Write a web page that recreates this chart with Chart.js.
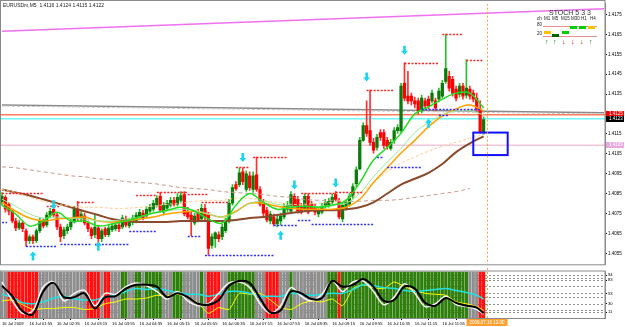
<!DOCTYPE html>
<html><head><meta charset="utf-8">
<script src="https://cdn.jsdelivr.net/npm/chart.js@4.4.0/dist/chart.umd.min.js"></script>
<style>
html,body{margin:0;padding:0;background:#fff;}
#wrap{position:relative;width:625px;height:327px;overflow:hidden;font-family:"Liberation Sans",Arial,sans-serif;}
canvas{position:absolute;left:0;}
#c1{top:0;}
#c2{top:268px;}
.t{position:absolute;white-space:nowrap;line-height:1;color:#222;}
.bx{position:absolute;height:3px;width:7px;}
</style></head><body>
<div id="wrap">
<canvas id="c1" width="625" height="268"></canvas>
<canvas id="c2" width="625" height="59"></canvas>
<div class="t" style="left:3px;top:3px;font-size:5px;">EURUSDm,M5&nbsp; 1.4116 1.4124 1.4115 1.4122</div>
<div class="t" style="left:549px;top:9px;font-size:7px;color:#333;">STOCH 5 3 3</div>
<div class="t" style="left:537px;top:17px;font-size:4.5px;">ch</div>
<div class="t" style="left:544px;top:17px;font-size:4.5px;">M1</div>
<div class="t" style="left:552px;top:17px;font-size:4.5px;">M5</div>
<div class="t" style="left:561px;top:17px;font-size:4.5px;">M15</div>
<div class="t" style="left:571px;top:17px;font-size:4.5px;">M30</div>
<div class="t" style="left:581px;top:17px;font-size:4.5px;">H1</div>
<div class="t" style="left:590px;top:17px;font-size:4.5px;">H4</div>
<div class="t" style="left:537px;top:23px;font-size:4.5px;">80</div>
<div class="t" style="left:537px;top:32px;font-size:4.5px;">20</div>
<div style="position:absolute;left:543px;top:26px;width:54px;height:1px;background:#e89090;"></div>
<div style="position:absolute;left:543px;top:36px;width:54px;height:1px;background:#e89090;"></div>
<div class="bx" style="left:544px;top:31px;background:#ffc000;"></div>
<div class="bx" style="left:552px;top:34px;background:#006400;"></div>
<div class="bx" style="left:562px;top:31px;background:#00d000;"></div>
<div class="bx" style="left:570px;top:26px;background:#00d000;"></div>
<div class="bx" style="left:579px;top:26px;background:#00d000;"></div>
<div class="bx" style="left:588px;top:26px;background:#ffc000;"></div>
<div class="t" style="left:545px;top:38px;font-size:7px;font-weight:bold;color:#008000;">↑</div>
<div class="t" style="left:553px;top:38px;font-size:7px;font-weight:bold;color:#008000;">↑</div>
<div class="t" style="left:562px;top:38px;font-size:7px;font-weight:bold;color:#e00000;">↓</div>
<div class="t" style="left:571px;top:38px;font-size:7px;font-weight:bold;color:#e00000;">↓</div>
<div class="t" style="left:580px;top:38px;font-size:7px;font-weight:bold;color:#e00000;">↓</div>
<div class="t" style="left:589px;top:38px;font-size:7px;font-weight:bold;color:#008000;">↑</div>
</div>
<script>
// ---------- price data (M5 bars) ----------
const opens = [
1.40807,1.40832,1.40797,1.40762,1.40713,1.40678,1.40703,1.40664,1.40614,1.40634,
1.40614,1.40664,1.40713,1.40693,1.40743,1.40772,1.40743,1.40683,1.40639,1.40664,
1.40683,1.40708,1.40772,1.40723,1.40738,1.40703,1.40674,1.40644,1.40678,1.40624,
1.40674,1.40644,1.40669,1.40674,1.40693,1.40683,1.40723,1.40688,1.40708,1.40713,
1.40733,1.40753,1.40738,1.40762,1.40772,1.40792,1.40837,1.40757,1.40777,1.40792,
1.40817,1.40797,1.40817,1.40846,1.40762,1.40743,1.40703,1.40753,1.40723,1.40777,
1.40743,1.40590,1.40624,1.40644,1.40634,1.40664,1.40713,1.40802,1.40896,1.40896,
1.40960,1.40871,1.40940,1.40871,1.40945,1.40871,1.40797,1.40767,1.40713,1.40733,
1.40698,1.40713,1.40733,1.40772,1.40762,1.40837,1.40822,1.40787,1.40772,1.40837,
1.40797,1.40782,1.40748,1.40757,1.40787,1.40792,1.40807,1.40846,1.40812,1.40723,
1.40777,1.40797,1.40837,1.40901,1.40975,1.41118,1.41192,1.41167,1.41108,1.41083,
1.41157,1.41157,1.41118,1.41078,1.41118,1.41167,1.41167,1.41404,1.41340,1.41340,
1.41316,1.41316,1.41266,1.41316,1.41325,1.41316,1.41316,1.41325,1.41340,1.41414,
1.41439,1.41424,1.41375,1.41350,1.41390,1.41345,1.41375,1.41355,1.41330,1.41276,
1.41162];
const highs = [
1.40856,1.40841,1.40807,1.40772,1.40728,1.40718,1.40713,1.40674,1.40644,1.40644,
1.40674,1.40728,1.40723,1.40757,1.40777,1.40792,1.40753,1.40698,1.40683,1.40698,
1.40723,1.40787,1.40812,1.40762,1.40753,1.40713,1.40683,1.40748,1.40693,1.40674,
1.40683,1.40693,1.40703,1.40708,1.40703,1.40743,1.40738,1.40728,1.40743,1.40757,
1.40772,1.40767,1.40787,1.40797,1.40817,1.40841,1.40856,1.40807,1.40817,1.40832,
1.40832,1.40851,1.40861,1.40861,1.40782,1.40762,1.40753,1.40772,1.40797,1.40797,
1.40757,1.40649,1.40659,1.40659,1.40698,1.40728,1.40822,1.40896,1.40911,1.40980,
1.40980,1.40965,1.40960,1.40960,1.41034,1.40886,1.40822,1.40782,1.40762,1.40748,
1.40738,1.40753,1.40802,1.40812,1.40861,1.40851,1.40837,1.40802,1.40851,1.40851,
1.40812,1.40797,1.40777,1.40802,1.40822,1.40827,1.40851,1.40861,1.40827,1.40807,
1.40822,1.40851,1.40901,1.40985,1.41133,1.41207,1.41316,1.41370,1.41128,1.41148,
1.41172,1.41172,1.41133,1.41123,1.41182,1.41197,1.41404,1.41508,1.41464,1.41355,
1.41335,1.41330,1.41345,1.41330,1.41340,1.41370,1.41330,1.41380,1.41419,1.41651,
1.41464,1.41439,1.41390,1.41404,1.41404,1.41523,1.41390,1.41370,1.41355,1.41316,
1.41236];
const lows = [
1.40792,1.40757,1.40743,1.40703,1.40664,1.40669,1.40659,1.40585,1.40599,1.40599,
1.40604,1.40654,1.40678,1.40683,1.40728,1.40733,1.40669,1.40609,1.40624,1.40649,
1.40669,1.40703,1.40713,1.40708,1.40693,1.40659,1.40624,1.40629,1.40599,1.40609,
1.40634,1.40634,1.40659,1.40664,1.40659,1.40674,1.40683,1.40678,1.40693,1.40703,
1.40718,1.40718,1.40728,1.40753,1.40762,1.40782,1.40757,1.40743,1.40767,1.40782,
1.40787,1.40787,1.40807,1.40738,1.40723,1.40639,1.40693,1.40708,1.40713,1.40713,
1.40540,1.40575,1.40580,1.40609,1.40619,1.40654,1.40703,1.40792,1.40866,1.40886,
1.40896,1.40861,1.40866,1.40856,1.40861,1.40787,1.40738,1.40708,1.40698,1.40688,
1.40683,1.40693,1.40723,1.40757,1.40753,1.40777,1.40753,1.40748,1.40762,1.40748,
1.40762,1.40743,1.40733,1.40748,1.40777,1.40782,1.40797,1.40812,1.40723,1.40708,
1.40767,1.40787,1.40827,1.40886,1.40970,1.41113,1.41138,1.41093,1.41054,1.41069,
1.41118,1.41078,1.41074,1.41069,1.41103,1.41153,1.41157,1.41316,1.41301,1.41296,
1.41281,1.41251,1.41256,1.41276,1.41276,1.41306,1.41266,1.41311,1.41330,1.41404,
1.41365,1.41340,1.41316,1.41335,1.41325,1.41330,1.41325,1.41311,1.41266,1.41153,
1.41148];
const closes = [
1.40837,1.40772,1.40762,1.40713,1.40678,1.40703,1.40674,1.40614,1.40634,1.40614,
1.40664,1.40713,1.40688,1.40743,1.40762,1.40743,1.40683,1.40634,1.40669,1.40683,
1.40708,1.40772,1.40728,1.40748,1.40703,1.40674,1.40639,1.40683,1.40624,1.40664,
1.40644,1.40678,1.40688,1.40693,1.40674,1.40728,1.40693,1.40713,1.40728,1.40743,
1.40757,1.40728,1.40772,1.40782,1.40802,1.40827,1.40767,1.40792,1.40802,1.40817,
1.40797,1.40832,1.40841,1.40748,1.40733,1.40713,1.40738,1.40718,1.40777,1.40733,
1.40575,1.40634,1.40654,1.40624,1.40683,1.40713,1.40802,1.40881,1.40876,1.40955,
1.40911,1.40950,1.40881,1.40940,1.40871,1.40797,1.40753,1.40718,1.40748,1.40698,
1.40723,1.40738,1.40787,1.40792,1.40846,1.40787,1.40762,1.40757,1.40837,1.40757,
1.40772,1.40757,1.40762,1.40787,1.40807,1.40812,1.40832,1.40822,1.40733,1.40792,
1.40807,1.40837,1.40886,1.40970,1.41118,1.41192,1.41153,1.41108,1.41069,1.41133,
1.41133,1.41093,1.41088,1.41108,1.41167,1.41182,1.41390,1.41330,1.41316,1.41316,
1.41301,1.41266,1.41330,1.41291,1.41291,1.41355,1.41281,1.41365,1.41404,1.41478,
1.41380,1.41355,1.41330,1.41390,1.41340,1.41380,1.41340,1.41325,1.41276,1.41162,
1.41222];

// moving averages, read every 4 bars
const maIdx = [0,4,8,12,16,20,24,28,32,36,40,44,48,52,56,60,64,68,72,76,80,84,88,92,96,100,104,108,112,116,120,124,128,132,136,140];
const maFast = [1.40792,1.40748,1.40688,1.40713,1.40757,1.40713,1.40713,1.40688,1.40698,1.40713,1.40733,1.40753,1.40767,1.40782,1.40762,1.40723,1.40703,1.40792,1.40851,1.40807,1.40772,1.40782,1.40787,1.40782,1.40792,1.40817,1.40906,1.41019,1.41083,1.41153,1.41251,1.41286,1.41325,1.41355,1.41355,1.41281];
const maLight = [1.40822,1.40787,1.40748,1.40728,1.40733,1.40728,1.40723,1.40713,1.40713,1.40723,1.40733,1.40753,1.40762,1.40772,1.40767,1.40748,1.40733,1.40757,1.40802,1.40812,1.40797,1.40787,1.40787,1.40787,1.40792,1.40802,1.40851,1.40935,1.41009,1.41078,1.41157,1.41207,1.41246,1.41266,1.41266,1.41246];
const maOrange = [1.40807,1.40762,1.40728,1.40713,1.40723,1.40728,1.40733,1.40713,1.40708,1.40713,1.40723,1.40733,1.40748,1.40757,1.40762,1.40748,1.40733,1.40762,1.40802,1.40802,1.40787,1.40777,1.40772,1.40772,1.40772,1.40782,1.40822,1.40906,1.40980,1.41054,1.41118,1.41187,1.41241,1.41276,1.41296,1.41266];
const maPeach = [1.40871,1.40856,1.40832,1.40812,1.40797,1.40787,1.40782,1.40782,1.40777,1.40777,1.40782,1.40787,1.40797,1.40802,1.40812,1.40817,1.40817,1.40827,1.40827,1.40817,1.40807,1.40797,1.40797,1.40802,1.40807,1.40822,1.40856,1.40906,1.40960,1.41004,1.41034,1.41064,1.41088,1.41108,1.41128,1.41148];
const maBrown = [1.40871,1.40856,1.40841,1.40822,1.40802,1.40782,1.40762,1.40743,1.40723,1.40713,1.40708,1.40708,1.40708,1.40713,1.40713,1.40713,1.40713,1.40718,1.40728,1.40733,1.40743,1.40753,1.40762,1.40767,1.40767,1.40772,1.40782,1.40807,1.40851,1.40896,1.40925,1.40955,1.40999,1.41059,1.41103,1.41138];
const maSlow = [1.40985,1.40980,1.40970,1.40960,1.40950,1.40940,1.40935,1.40925,1.40920,1.40911,1.40906,1.40901,1.40891,1.40881,1.40876,1.40871,1.40861,1.40856,1.40851,1.40846,1.40837,1.40832,1.40822,1.40817,1.40817,1.40812,1.40812,1.40817,1.40817,1.40822,1.40832,1.40841,1.40851,1.40861,1.40876,null];

// lines and levels
const magentaTrend = [[0,1.41666],[175,1.41779]];
const grayTrend = [[0,1.41296],[175,1.41256]];
const levelCoral = 1.41246, levelCyan = 1.41227, levelPink = 1.41093;
const resist = [[0,12,1.40856],[13,17,1.40787],[22,27,1.40807],[39,45,1.40846],[45,54,1.40861],[54,60,1.40851],[58,66,1.40807],[68,72,1.40985],[73,83,1.41034],[87,97,1.40856],[97,105,1.40861],[106,114,1.41370],[117,127,1.41508],[128,134,1.41651],[135,140,1.41523]];
const support = [[0,1.5,1.40708],[7,16,1.40590],[17,26,1.40599],[27,37,1.40599],[37,45,1.40664],[54,58,1.40639],[59,79,1.40540],[79,86,1.40693],[86,90,1.40718],[90,108,1.40698],[109,111,1.41034],[112,122,1.40985],[127,130,1.41246],[122,139,1.41276]];
const arrowsUp = [[9,1.40560],[28,1.40609],[81,1.40664],[124,1.41227]];
const arrowsDown = [[15,1.40772],[70,1.41009],[85,1.40871],[97,1.40881],[106,1.41414],[117,1.41548]];
const boxZone = {i1:137, i2:147, p1:1.41157, p2:1.41044};
const nowBar = 141;
const priceTicks = [1.4175,1.4165,1.4155,1.4145,1.4135,1.4115,1.4105,1.4095,1.4085,1.4075,1.4065,1.4055];
const axisTags = [[1.41251,'1.4125'],[1.41227,'1.4123'],[1.41093,'1.4109']];

// lower window oscillator
const oscIdx = [0,3,6,9,12,15,18,21,24,27,30,33,36,39,42,45,48,51,54,57,60,63,66,69,72,75,78,81,84,87,90,93,96,99,102,105,108,111,114,117,120,123,126,129,132,135,138,140];
const oscBlack = [70.2,46.8,12.8,6.4,57.4,76.6,44.7,44.7,53.2,19.1,44.7,46.8,63.8,72.3,72.3,68.1,44.7,53.2,44.7,29.8,27.7,38.3,70.2,80.9,76.6,42.6,10.6,14.9,57.4,53.2,40.4,42.6,80.9,68.1,72.3,85.1,68.1,36.2,38.3,68.1,63.8,31.9,25.5,42.6,31.9,25.5,21.3,8.5];
const oscWhite = [78.7,36.2,8.5,14.9,68.1,78.7,36.2,53.2,59.6,25.5,53.2,51.1,68.1,76.6,70.2,57.4,40.4,57.4,36.2,25.5,29.8,53.2,76.6,78.7,66.0,29.8,8.5,25.5,66.0,46.8,36.2,51.1,80.9,57.4,78.7,80.9,57.4,27.7,44.7,74.5,53.2,23.4,29.8,46.8,27.7,23.4,17.0,6.4];
const oscCyan = [51.1,44.7,31.9,29.8,34.0,42.6,46.8,40.4,38.3,38.3,44.7,48.9,57.4,63.8,61.7,63.8,59.6,55.3,51.1,51.1,46.8,51.1,57.4,57.4,53.2,46.8,46.8,46.8,53.2,51.1,48.9,51.1,53.2,53.2,61.7,72.3,70.2,66.0,63.8,59.6,57.4,59.6,61.7,63.8,59.6,55.3,48.9,40.4];
const oscYellow = [36.2,38.3,27.7,17.0,19.1,19.1,21.3,21.3,17.0,19.1,29.8,34.0,40.4,40.4,42.6,48.9,46.8,51.1,44.7,31.9,8.5,21.3,17.0,53.2,51.1,53.2,38.3,21.3,17.0,29.8,36.2,34.0,40.4,25.5,63.8,72.3,66.0,63.8,78.7,68.1,59.6,53.2,51.1,48.9,34.0,29.8,23.4,14.9];
const histState = [0,0,-1,-1,-1,-1,-1,-1,-1,-1,-1,0,0,0,0,0,0,0,0,0,0,0,0,0,0,-1,-1,-1,-1,0,-1,-1,0,0,0,1,1,0,0,1,1,0,1,1,1,1,1,0,0,0,1,1,1,0,0,0,0,0,1,0,-1,-1,-1,-1,0,0,1,1,1,1,1,1,1,1,0,0,0,-1,-1,-1,-1,0,0,0,1,0,0,0,0,0,0,0,0,0,0,1,1,1,-1,1,1,1,1,1,1,1,1,1,1,1,1,1,1,1,1,1,1,1,1,1,1,1,1,1,1,1,1,1,1,1,1,1,1,1,1,1,0,0,0,-1,-1];
const oscLevels = [94,87,83,70,53,45,30,15,11];
const timeTickIdx = [0,8,16,24,32,40,48,56,64,72,80,88,96,104,112,120,128,136];
const timeLabels = ['16 Jul 2009','16 Jul 01:55','16 Jul 02:35','16 Jul 03:15','16 Jul 03:55','16 Jul 04:35','16 Jul 05:15','16 Jul 05:55','16 Jul 06:35','16 Jul 07:15','16 Jul 07:55','16 Jul 08:35','16 Jul 09:15','16 Jul 09:55','16 Jul 10:35','16 Jul 11:15','16 Jul 11:55','16 Jul 12:35'];
const nowLabel = '2009.07.16 13:00';

// ---------- layout constants ----------
const X_MIN = -0.29, X_MAX = 175.29;
const P_MIN = 1.404957, P_MAX = 1.41804;
const OSC_MIN = -2.13, OSC_MAX = 102.13;
const FONT = 'Liberation Sans';

const idx = closes.map((_, i) => i);
const pts = (xs, ys) => xs.map((x, k) => ({x, y: ys[k]}));
const isUp = idx.map(i => closes[i] >= opens[i]);

const mainOverlay = {
  id: 'mainOverlay',
  beforeDatasetsDraw(chart) {
    const {ctx, chartArea: a, scales: {x, y}} = chart;
    ctx.save();
    ctx.beginPath(); ctx.rect(a.left, a.top, a.right - a.left, a.bottom - a.top); ctx.clip();
    const seg = (i1, p1, i2, p2, c, w, d) => {
      ctx.strokeStyle = c; ctx.lineWidth = w; ctx.setLineDash(d || []);
      ctx.beginPath(); ctx.moveTo(x.getPixelForValue(i1), y.getPixelForValue(p1));
      ctx.lineTo(x.getPixelForValue(i2), y.getPixelForValue(p2)); ctx.stroke();
    };
    seg(magentaTrend[0][0], magentaTrend[0][1], magentaTrend[1][0], magentaTrend[1][1], '#f070f0', 1.5);
    seg(grayTrend[0][0], grayTrend[0][1], grayTrend[1][0], grayTrend[1][1], '#8a8a8a', 1.5);
    seg(grayTrend[0][0], grayTrend[0][1] - 0.00006, grayTrend[1][0], grayTrend[1][1] - 0.00006, '#c8c8c8', 1, [3, 2]);
    seg(X_MIN, levelCoral, X_MAX, levelCoral, '#ff7f5a', 1.5);
    seg(X_MIN, levelCyan, X_MAX, levelCyan, '#6ff6f6', 1.5);
    seg(X_MIN, levelPink, X_MAX, levelPink, '#f2c6da', 1.5);
    ctx.restore();
  },
  afterDatasetsDraw(chart) {
    const {ctx, chartArea: a, scales: {x, y}} = chart;
    ctx.save();
    ctx.beginPath(); ctx.rect(a.left, a.top, a.right - a.left, a.bottom - a.top); ctx.clip();
    ctx.lineWidth = 1.4; ctx.setLineDash([2, 1.5]);
    ctx.strokeStyle = '#ff2020';
    resist.forEach(r => { const yy = Math.round(y.getPixelForValue(r[2])) + 0.5; ctx.beginPath(); ctx.moveTo(x.getPixelForValue(r[0]), yy); ctx.lineTo(x.getPixelForValue(r[1]), yy); ctx.stroke(); });
    ctx.strokeStyle = '#3030ff';
    support.forEach(r => { const yy = Math.round(y.getPixelForValue(r[2])) + 0.5; ctx.beginPath(); ctx.moveTo(x.getPixelForValue(r[0]), yy); ctx.lineTo(x.getPixelForValue(r[1]), yy); ctx.stroke(); });
    ctx.setLineDash([]);
    ctx.fillStyle = '#18d4f0';
    const arrow = (cx, ty, dir) => {
      const hw = 3.5, hd = 4, sw = 1.3, h = 9;
      ctx.beginPath();
      ctx.moveTo(cx, ty);
      ctx.lineTo(cx + hw, ty + dir * hd); ctx.lineTo(cx + sw, ty + dir * hd); ctx.lineTo(cx + sw, ty + dir * h);
      ctx.lineTo(cx - sw, ty + dir * h); ctx.lineTo(cx - sw, ty + dir * hd); ctx.lineTo(cx - hw, ty + dir * hd);
      ctx.closePath(); ctx.fill();
    };
    arrowsUp.forEach(r => arrow(x.getPixelForValue(r[0]), y.getPixelForValue(r[1]), 1));
    arrowsDown.forEach(r => arrow(x.getPixelForValue(r[0]), y.getPixelForValue(r[1]), -1));
    ctx.strokeStyle = '#1010ff'; ctx.lineWidth = 2;
    const rx1 = x.getPixelForValue(boxZone.i1), rx2 = x.getPixelForValue(boxZone.i2);
    const ry1 = y.getPixelForValue(boxZone.p1), ry2 = y.getPixelForValue(boxZone.p2);
    ctx.strokeRect(rx1, ry1, rx2 - rx1, ry2 - ry1);
    ctx.strokeStyle = '#ffa030'; ctx.lineWidth = 1; ctx.setLineDash([2, 2]);
    const vx = Math.round(x.getPixelForValue(nowBar)) + 0.5;
    ctx.beginPath(); ctx.moveTo(vx, a.top); ctx.lineTo(vx, a.bottom); ctx.stroke();
    ctx.restore();
  },
  afterDraw(chart) {
    const {ctx, chartArea: a, scales: {y}} = chart;
    ctx.save();
    ctx.strokeStyle = '#8a8a8a'; ctx.lineWidth = 1;
    ctx.strokeRect(0.5, 0.5, a.right - 0.5, a.bottom);
    const tagColors = ['#ff0000', '#000000', '#e8a8e0'];
    axisTags.forEach((t, k) => {
      const yy = Math.round(y.getPixelForValue(t[0]));
      ctx.fillStyle = tagColors[k];
      ctx.fillRect(a.right + 1, yy - 3, 18, 6);
      ctx.fillStyle = '#ffffff'; ctx.font = '4.5px ' + FONT; ctx.textBaseline = 'middle'; ctx.textAlign = 'left';
      ctx.fillText(t[1], a.right + 4, yy);
    });
    ctx.restore();
  }
};

const lineDs = (data, color, w, extra) => Object.assign({type: 'line', data, borderColor: color, borderWidth: w, pointRadius: 0, tension: 0.35, fill: false, spanGaps: false}, extra || {});

new Chart(document.getElementById('c1'), {
  type: 'bar',
  data: {datasets: [
    lineDs(pts(maIdx, maFast), '#22dd22', 1.5, {order: 1}),
    lineDs(pts(maIdx, maLight), '#9ae89a', 1, {order: 2}),
    lineDs(pts(maIdx, maOrange), '#ffa200', 1.5, {order: 3}),
    lineDs(pts(maIdx, maPeach), '#ffcc90', 1, {order: 4, borderDash: [3, 2]}),
    lineDs(pts(maIdx, maBrown), '#8b4a2b', 2, {order: 5}),
    lineDs(pts(maIdx, maSlow), '#c89a88', 1, {order: 6, borderDash: [4, 3]}),
    {type: 'bar', data: idx.map(i => ({x: i, y: [opens[i], closes[i]]})), backgroundColor: isUp.map(u => u ? '#0b7a0b' : '#ff0000'), barThickness: 2.6, grouped: false, order: 10},
    {type: 'bar', data: idx.map(i => ({x: i, y: [lows[i], highs[i]]})), backgroundColor: isUp.map(u => u ? '#2bbf2b' : '#ff3030'), barThickness: 1, grouped: false, order: 11}
  ]},
  options: {
    responsive: false, animation: false, events: [],
    layout: {padding: {left: 1, top: 1, right: 0, bottom: 2}},
    plugins: {legend: {display: false}, tooltip: {enabled: false}},
    scales: {
      x: {type: 'linear', min: X_MIN, max: X_MAX, offset: false, display: false, bounds: 'data'},
      y: {position: 'right', min: P_MIN, max: P_MAX, bounds: 'data',
        afterBuildTicks: s => { s.ticks = priceTicks.map(v => ({value: v})); },
        afterFit: s => { s.width = 20; },
        ticks: {font: {size: 4.5, family: FONT}, color: '#000', padding: 1, callback: v => Number(v).toFixed(4)},
        grid: {display: true, drawOnChartArea: false, tickLength: 2, color: '#000'},
        border: {display: true, color: '#8a8a8a'}}
    }
  },
  plugins: [mainOverlay]
});

const lowOverlay = {
  id: 'lowOverlay',
  beforeDatasetsDraw(chart) {
    const {ctx, chartArea: a, scales: {y}} = chart;
    ctx.save();
    ctx.strokeStyle = '#909090'; ctx.lineWidth = 1; ctx.setLineDash([2, 2]);
    oscLevels.forEach(v => { const yy = Math.round(y.getPixelForValue(v)) + 0.5; ctx.beginPath(); ctx.moveTo(a.left, yy); ctx.lineTo(a.right, yy); ctx.stroke(); });
    ctx.restore();
  },
  afterDatasetsDraw(chart) {
    const {ctx, chartArea: a, scales: {x}} = chart;
    ctx.save();
    ctx.strokeStyle = '#ffa030'; ctx.lineWidth = 1; ctx.setLineDash([2, 2]);
    const vx = Math.round(x.getPixelForValue(nowBar)) + 0.5;
    ctx.beginPath(); ctx.moveTo(vx, 0); ctx.lineTo(vx, a.bottom); ctx.stroke();
    ctx.setLineDash([]);
    ctx.strokeStyle = '#8a8a8a';
    ctx.strokeRect(0.5, a.top - 0.5, a.right - 0.5, a.bottom - a.top + 1);
    ctx.restore();
  },
  afterDraw(chart) {
    const {ctx, chartArea: a, scales: {x}} = chart;
    ctx.save();
    const vx = x.getPixelForValue(nowBar);
    ctx.font = '4.5px ' + FONT;
    const w = ctx.measureText(nowLabel).width + 6;
    ctx.fillStyle = '#ffa030';
    ctx.fillRect(vx - w / 2, a.bottom + 1, w, 7);
    ctx.fillStyle = '#ffffff'; ctx.textBaseline = 'middle'; ctx.textAlign = 'center';
    ctx.fillText(nowLabel, vx, a.bottom + 4.5);
    ctx.restore();
  }
};

new Chart(document.getElementById('c2'), {
  type: 'bar',
  data: {datasets: [
    lineDs(pts(oscIdx, oscBlack), '#000000', 2, {order: 1}),
    lineDs(pts(oscIdx, oscWhite), '#f4f4f4', 1.5, {order: 2}),
    lineDs(pts(oscIdx, oscCyan), '#22e0e0', 1.5, {order: 3}),
    lineDs(pts(oscIdx, oscYellow), '#ffff00', 1, {order: 4, tension: 0.2}),
    {type: 'bar', data: idx.map(i => ({x: i, y: [OSC_MIN, OSC_MAX]})), backgroundColor: histState.map(s => s > 0 ? '#2f7f0c' : (s < 0 ? '#ff1010' : '#8e8e8e')), barThickness: 2.5, grouped: false, order: 10}
  ]},
  options: {
    responsive: false, animation: false, events: [],
    layout: {padding: {left: 1, top: 1, right: 0, bottom: 0}},
    plugins: {legend: {display: false}, tooltip: {enabled: false}},
    scales: {
      x: {type: 'linear', min: X_MIN, max: X_MAX, offset: false, bounds: 'data', position: 'bottom',
        afterBuildTicks: s => { s.ticks = timeTickIdx.map(v => ({value: v})); },
        afterFit: s => { s.height = 9; },
        ticks: {autoSkip: false, maxRotation: 0, minRotation: 0, align: 'start', font: {size: 4.2, family: FONT}, color: '#000', padding: 1, callback: (v, k) => timeLabels[k]},
        grid: {display: true, drawOnChartArea: false, tickLength: 2, color: '#000'},
        border: {display: true, color: '#8a8a8a'}},
      y: {position: 'right', min: OSC_MIN, max: OSC_MAX, bounds: 'data',
        afterBuildTicks: s => { s.ticks = oscLevels.map(v => ({value: v})); },
        afterFit: s => { s.width = 20; },
        ticks: {font: {size: 4.2, family: FONT}, color: '#000', padding: 1, callback: v => String(v)},
        grid: {display: true, drawOnChartArea: false, tickLength: 2, color: '#000'},
        border: {display: true, color: '#8a8a8a'}}
    }
  },
  plugins: [lowOverlay]
});
</script>
</body></html>
